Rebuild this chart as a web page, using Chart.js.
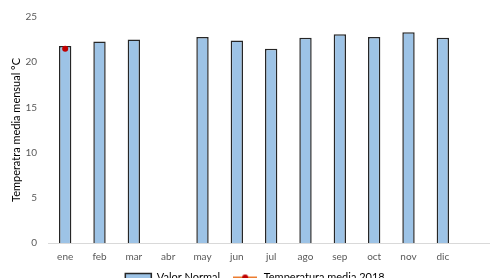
<!DOCTYPE html>
<html>
<head>
<meta charset="utf-8">
<script src="https://cdn.jsdelivr.net/npm/chart.js@4"></script>
<style>
  body { margin: 0; overflow: hidden; background: #fff; }
  #wrap { width: 490px; height: 304px; }
</style>
</head>
<body>
<div id="wrap"><canvas id="tempChart"></canvas></div>
<script>
const months = ["ene", "feb", "mar", "abr", "may", "jun", "jul", "ago", "sep", "oct", "nov", "dic"];
const valorNormal = [21.8, 22.3, 22.5, null, 22.8, 22.4, 21.5, 22.7, 23.1, 22.8, 23.3, 22.7];
const temp2018 = [21.5, null, null, null, null, null, null, null, null, null, null, null];
const yTicks = [0, 5, 10, 15, 20, 25];

const fontFamily = "Lato, 'Open Sans', sans-serif";

// little image for the line+marker legend entry
const lineIcon = document.createElement("canvas");
lineIcon.width = 24;
lineIcon.height = 8;
const ic = lineIcon.getContext("2d");
ic.strokeStyle = "#ED7D31";
ic.lineWidth = 2;
ic.beginPath();
ic.moveTo(0, 4);
ic.lineTo(24, 4);
ic.stroke();
ic.fillStyle = "#C00000";
ic.beginPath();
ic.arc(12, 4, 3, 0, Math.PI * 2);
ic.fill();

// the x axis line runs on to the right edge; legend nudged into place
const tweaks = {
  id: "tweaks",
  afterLayout(chart) {
    const lg = chart.legend;
    const dx = 20, dy = -11;
    lg.left += dx; lg.right += dx;
    lg.top += dy; lg.bottom += dy;
  },
  afterDraw(chart) {
    const { ctx, chartArea } = chart;
    const y = chart.scales.y.getPixelForValue(0);
    ctx.save();
    ctx.strokeStyle = "#D9D9D9";
    ctx.lineWidth = 1;
    ctx.beginPath();
    ctx.moveTo(chartArea.left, Math.round(y) + 0.5);
    ctx.lineTo(chart.width, Math.round(y) + 0.5);
    ctx.stroke();
    ctx.restore();
  },
};

const ctx = document.getElementById("tempChart").getContext("2d");
new Chart(ctx, {
  type: "bar",
  data: {
    labels: months,
    datasets: [
      {
        label: "Valor Normal",
        data: valorNormal,
        backgroundColor: "#9DC3E6",
        borderColor: "#262626",
        borderWidth: 1.5,
        barPercentage: 0.36,
        categoryPercentage: 1,
        order: 2,
      },
      {
        type: "line",
        label: "Temperatura media 2018",
        data: temp2018,
        borderColor: "#ED7D31",
        borderWidth: 2,
        pointBackgroundColor: "#C00000",
        pointBorderWidth: 0,
        pointRadius: 3,
        order: 1,
      },
    ],
  },
  options: {
    responsive: true,
    maintainAspectRatio: false,
    animation: false,
    layout: { padding: { left: 10, right: 30, top: 8, bottom: 0 } },
    plugins: {
      title: { display: false },
      tooltip: { enabled: false },
      legend: {
        position: "bottom",
        labels: {
          usePointStyle: true,
          pointStyleWidth: 26,
          boxHeight: 8,
          padding: 12,
          color: "#000",
          font: { family: fontFamily, size: 11 },
          generateLabels: () => [
            {
              text: "Valor Normal",
              fillStyle: "#9DC3E6",
              strokeStyle: "#262626",
              lineWidth: 1.5,
              pointStyle: "rect",
              datasetIndex: 0,
            },
            {
              text: "Temperatura media 2018",
              fillStyle: "#C00000",
              strokeStyle: "#ED7D31",
              lineWidth: 0,
              pointStyle: lineIcon,
              datasetIndex: 1,
            },
          ],
        },
      },
    },
    scales: {
      x: {
        grid: { display: false, drawTicks: false },
        border: { display: false },
        ticks: {
          color: "#595959",
          padding: 8,
          font: { family: fontFamily, size: 10 },
        },
      },
      y: {
        min: 0,
        max: 25,
        afterBuildTicks: (axis) => {
          axis.ticks = yTicks.map((v) => ({ value: v }));
        },
        afterFit: (axis) => {
          axis.width = 38;
        },
        grid: { display: false, drawTicks: false },
        border: { display: false },
        ticks: {
          color: "#595959",
          padding: 11,
          font: { family: fontFamily, size: 10 },
        },
        title: {
          display: true,
          text: "Temperatra media mensual °C",
          color: "#000",
          padding: { top: 0, bottom: 5 },
          font: { family: fontFamily, size: 11 },
        },
      },
    },
  },
  plugins: [tweaks],
});
</script>
</body>
</html>
